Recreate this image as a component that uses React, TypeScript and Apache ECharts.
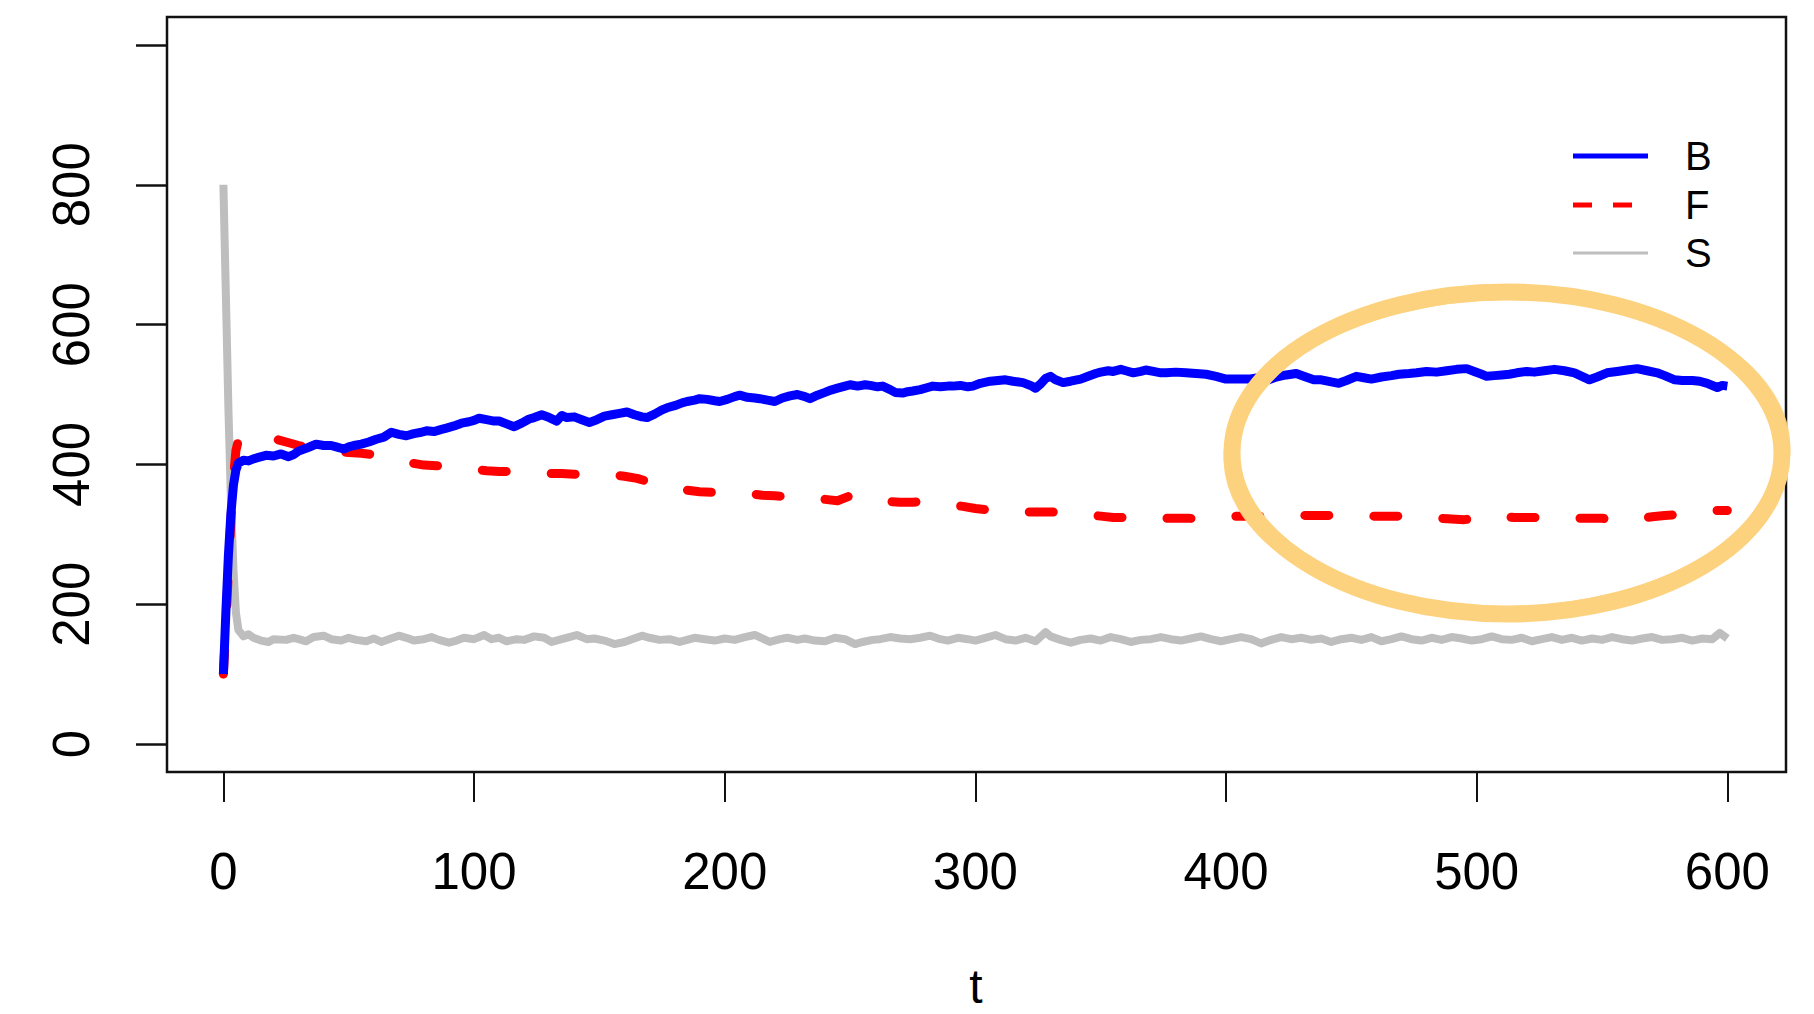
import React, { useEffect, useRef } from "react";
import * as echarts from "echarts";

// Axis ticks / labels
const xTicks = [0, 100, 200, 300, 400, 500, 600];
const yTicks = [0, 200, 400, 600, 800, 1000];
const yLabelValues = [0, 200, 400, 600, 800];
const xAxisTitle = "t";
const legendNames = ["B", "F", "S"];

// Series B (blue, solid) : [t, value]
const seriesB: number[][] = [
  [0, 100], [1, 190], [2, 270], [3, 330], [4, 370], [5, 392], [6, 402], [8, 406], [10, 405], [12, 408],
  [14, 410], [17, 413], [20, 412], [23, 415], [26, 411], [28, 414], [30, 419], [33, 423], [35, 426], [37, 429],
  [40, 427], [43, 427], [45, 425], [48, 422], [50, 425], [52, 427], [55, 429], [58, 432], [61, 436], [64, 439],
  [67, 446], [70, 443], [73, 441], [76, 444], [79, 446], [81, 448], [84, 447], [87, 450], [89, 452], [92, 455],
  [95, 459], [98, 461], [100, 463], [102, 466], [105, 464], [108, 462], [110, 462], [113, 458], [116, 454], [119, 459],
  [122, 465], [124, 467], [127, 471], [130, 467], [133, 462], [135, 470], [137, 467], [140, 468], [143, 464], [146, 460],
  [149, 464], [152, 469], [155, 471], [158, 473], [161, 475], [164, 471], [167, 468], [169, 467], [172, 472], [175, 478],
  [177, 481], [180, 484], [183, 488], [185, 490], [188, 492], [190, 494], [193, 493], [196, 491], [198, 490], [201, 493],
  [204, 497], [206, 499], [209, 496], [212, 495], [214, 494], [217, 492], [220, 490], [223, 495], [226, 498], [229, 500],
  [232, 497], [234, 494], [237, 499], [240, 503], [242, 506], [245, 509], [248, 512], [250, 514], [253, 512], [256, 514],
  [258, 513], [261, 511], [263, 512], [266, 507], [268, 503], [271, 502], [273, 504], [275, 505], [278, 507], [281, 510],
  [283, 512], [286, 511], [289, 512], [291, 512], [294, 513], [297, 511], [299, 512], [302, 516], [306, 519], [309, 520],
  [312, 521], [315, 519], [319, 517], [322, 513], [324, 509], [326, 515], [328, 523], [330, 526], [332, 521], [335, 517],
  [338, 519], [342, 522], [345, 526], [348, 530], [350, 532], [353, 534], [355, 533], [358, 536], [360, 534], [363, 531],
  [366, 533], [368, 535], [371, 533], [374, 531], [376, 531], [380, 532], [384, 531], [388, 530], [392, 529], [396, 526],
  [400, 522], [405, 522], [409, 522], [413, 524], [417, 521], [420, 525], [424, 528], [428, 530], [431, 526], [435, 521],
  [438, 521], [442, 518], [445, 516], [448, 520], [452, 526], [455, 524], [458, 522], [462, 525], [466, 527], [469, 529],
  [473, 530], [476, 531], [480, 533], [484, 532], [488, 534], [492, 536], [496, 537], [499, 533], [502, 529], [504, 526],
  [507, 527], [510, 528], [513, 529], [516, 531], [520, 533], [523, 532], [527, 534], [531, 536], [535, 534], [539, 531],
  [542, 526], [545, 521], [548, 525], [552, 531], [556, 533], [560, 535], [564, 537], [568, 534], [572, 531], [575, 527],
  [579, 521], [582, 520], [586, 520], [589, 519], [592, 516], [596, 510], [598, 513], [600, 512],
];

// Series F (red, dashed)
const seriesF: number[][] = [
  [0, 100], [1, 170], [2, 250], [3, 320], [4, 380], [5, 420], [6, 435], [8, 440], [10, 440], [12, 440],
  [16, 439], [20, 437], [25, 432], [30, 427], [35, 423], [40, 419], [45, 418], [50, 417], [55, 416], [60, 414],
  [65, 410], [70, 406], [75, 402], [80, 399], [85, 398], [90, 397], [95, 395], [100, 393], [105, 391], [110, 390],
  [115, 390], [120, 389], [125, 388], [130, 387], [135, 387], [140, 386], [145, 387], [150, 386], [155, 385], [160, 383],
  [165, 380], [170, 375], [175, 371], [180, 367], [185, 363], [190, 361], [195, 360], [200, 361], [205, 360], [210, 358],
  [215, 356], [220, 355], [225, 354], [230, 353], [235, 352], [240, 350], [245, 348], [250, 355], [255, 348], [260, 346],
  [265, 347], [270, 346], [275, 346], [280, 347], [285, 345], [290, 342], [295, 340], [300, 337], [305, 335], [310, 333],
  [315, 333], [320, 332], [325, 332], [330, 332], [335, 331], [340, 330], [345, 328], [350, 326], [355, 324], [360, 324],
  [365, 323], [370, 323], [375, 323], [380, 323], [385, 323], [390, 322], [395, 323], [400, 325], [405, 326], [410, 326],
  [415, 326], [420, 326], [425, 327], [430, 327], [435, 327], [440, 327], [445, 327], [450, 327], [455, 326], [460, 326],
  [465, 326], [470, 326], [475, 325], [480, 324], [485, 323], [490, 322], [495, 321], [500, 323], [505, 328], [510, 326],
  [515, 324], [520, 324], [525, 324], [530, 324], [535, 323], [540, 323], [545, 323], [550, 323], [555, 320], [560, 324],
  [565, 323], [570, 325], [575, 327], [580, 328], [585, 331], [590, 333], [595, 334], [600, 334],
];

// Series S (grey, solid)
const seriesS: number[][] = [
  [0, 800], [1, 640], [2, 480], [3, 350], [4, 250], [5, 188], [6, 163], [8, 154], [10, 157], [12, 152],
  [15, 148], [18, 146], [20, 150], [25, 149], [28, 152], [30, 150], [33, 147], [36, 153], [40, 155], [43, 150],
  [47, 148], [50, 152], [53, 149], [57, 147], [60, 151], [63, 146], [66, 150], [70, 155], [73, 152], [76, 148],
  [80, 150], [83, 153], [86, 149], [90, 145], [93, 148], [96, 152], [100, 150], [104, 156], [107, 150], [110, 152],
  [113, 147], [117, 150], [120, 149], [124, 154], [128, 152], [131, 146], [135, 150], [138, 153], [141, 156], [145, 150],
  [148, 151], [152, 148], [156, 143], [160, 146], [163, 150], [167, 155], [170, 152], [174, 149], [178, 150], [182, 146],
  [185, 149], [188, 152], [192, 150], [196, 148], [200, 151], [204, 149], [208, 153], [212, 156], [215, 151], [218, 146],
  [222, 150], [225, 152], [229, 149], [232, 151], [236, 148], [240, 147], [244, 152], [248, 150], [252, 143], [255, 146],
  [259, 149], [262, 150], [266, 153], [270, 151], [274, 150], [278, 152], [282, 155], [286, 150], [289, 148], [293, 152],
  [297, 150], [300, 148], [304, 152], [308, 156], [312, 150], [316, 148], [320, 152], [324, 147], [328, 160], [330, 154],
  [334, 149], [338, 145], [342, 149], [346, 151], [350, 148], [354, 153], [358, 150], [362, 146], [366, 149], [370, 150],
  [374, 153], [378, 150], [382, 148], [386, 151], [390, 154], [394, 150], [398, 147], [402, 150], [406, 153], [410, 150],
  [414, 144], [418, 149], [422, 153], [426, 150], [430, 152], [434, 149], [438, 151], [442, 146], [446, 150], [450, 152],
  [454, 149], [458, 153], [462, 147], [466, 150], [470, 154], [474, 150], [478, 148], [482, 152], [486, 149], [490, 153],
  [494, 151], [498, 148], [502, 150], [506, 154], [510, 150], [514, 149], [518, 152], [522, 147], [526, 150], [530, 153],
  [534, 149], [538, 152], [542, 148], [546, 151], [550, 149], [554, 153], [558, 150], [562, 148], [566, 151], [570, 153],
  [574, 149], [578, 150], [582, 152], [586, 148], [590, 151], [594, 150], [597, 159], [600, 151],
];

const FONT = "'Liberation Sans', Arial, Helvetica, sans-serif";
const BLUE = "#0000FF";
const RED = "#FF0000";
const GREY = "#BEBEBE";
const HIGHLIGHT = "#FDD27E";

export default function App() {
  const ref = useRef<HTMLDivElement>(null);

  useEffect(() => {
    document.body.style.margin = "0";
    const chart = echarts.init(ref.current as HTMLDivElement, null, {
      renderer: "svg",
      width: 1814,
      height: 1014,
    });

    const legendY = [156, 205, 253];

    chart.setOption({
      animation: false,
      backgroundColor: "#ffffff",
      grid: {
        left: 167,
        right: 28,
        top: 17,
        bottom: 242,
        show: true,
        borderColor: "#111",
        borderWidth: 2.5,
        backgroundColor: "transparent",
      },
      xAxis: {
        type: "value",
        min: -22.5,
        max: 623.4,
        axisLine: { show: false, onZero: false },
        splitLine: { show: false },
        axisTick: {
          show: true,
          inside: false,
          length: 30,
          customValues: xTicks,
          lineStyle: { color: "#111", width: 2 },
        },
        axisLabel: {
          customValues: xTicks,
          margin: 74,
          fontSize: 51,
          color: "#000",
          fontFamily: FONT,
        },
      },
      yAxis: {
        type: "value",
        min: -40,
        max: 1040,
        axisLine: { show: false, onZero: false },
        splitLine: { show: false },
        axisTick: {
          show: true,
          inside: false,
          length: 31,
          customValues: yTicks,
          lineStyle: { color: "#111", width: 2.5 },
        },
        axisLabel: {
          customValues: yLabelValues,
          rotate: 90,
          margin: 70,
          fontSize: 51,
          color: "#000",
          fontFamily: FONT,
        },
      },
      series: [
        {
          type: "line",
          name: legendNames[2],
          data: seriesS,
          symbol: "none",
          z: 1,
          lineStyle: { color: GREY, width: 8, join: "round" },
        },
        {
          type: "line",
          name: legendNames[1],
          data: seriesF,
          symbol: "none",
          z: 2,
          lineStyle: { color: RED, width: 9, type: [24, 45], cap: "round", join: "round" },
        },
        {
          type: "line",
          name: legendNames[0],
          data: seriesB,
          symbol: "none",
          z: 3,
          lineStyle: { color: BLUE, width: 9, join: "round" },
        },
      ],
      graphic: [
        {
          type: "line",
          shape: { x1: 1573, y1: legendY[0], x2: 1648, y2: legendY[0] },
          style: { stroke: BLUE, lineWidth: 5 },
        },
        {
          type: "line",
          shape: { x1: 1573, y1: legendY[1], x2: 1648, y2: legendY[1] },
          style: { stroke: RED, lineWidth: 5, lineDash: [19, 21] },
        },
        {
          type: "line",
          shape: { x1: 1573, y1: legendY[2], x2: 1648, y2: legendY[2] },
          style: { stroke: GREY, lineWidth: 3 },
        },
        ...legendNames.map((n, i) => ({
          type: "text",
          x: 1685,
          y: legendY[i],
          style: {
            text: n,
            fontSize: 40,
            fontFamily: FONT,
            fill: "#000",
            align: "left",
            verticalAlign: "middle",
          },
        })),
        {
          type: "text",
          x: 976,
          y: 986,
          style: {
            text: xAxisTitle,
            fontSize: 48,
            fontFamily: FONT,
            fill: "#000",
            align: "center",
            verticalAlign: "middle",
          },
        },
        {
          type: "ellipse",
          z: 20,
          shape: { cx: 1507, cy: 453, rx: 275, ry: 161 },
          style: { fill: "none", stroke: HIGHLIGHT, lineWidth: 17 },
        },
        {
          type: "ellipse",
          z: 20,
          x: 1507,
          y: 453,
          rotation: 0.025,
          shape: { cx: 0, cy: 0, rx: 279, ry: 158 },
          style: { fill: "none", stroke: HIGHLIGHT, lineWidth: 9, opacity: 0.9 },
        },
      ],
    });

    return () => chart.dispose();
  }, []);

  return (
    <div
      ref={ref}
      style={{ position: "fixed", left: 0, top: 0, width: 1814, height: 1014 }}
    />
  );
}
